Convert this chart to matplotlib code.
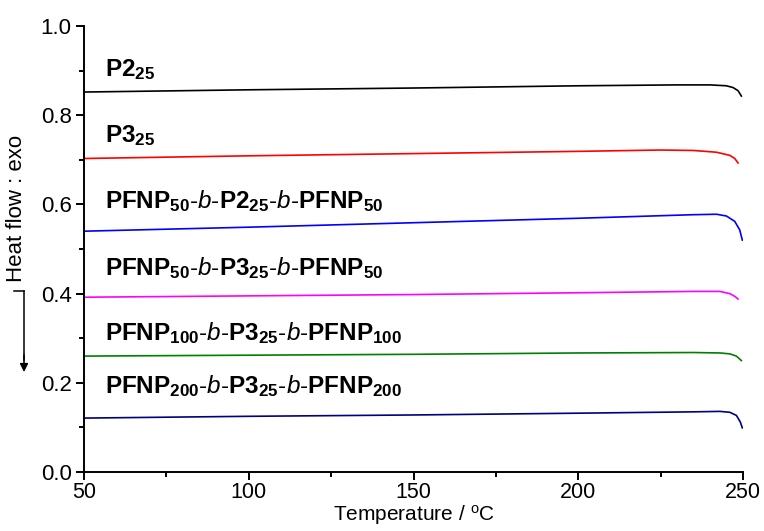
import numpy as np
import matplotlib
matplotlib.use('Agg')
import matplotlib.pyplot as plt
from matplotlib.lines import Line2D

plt.rcParams['font.family'] = ['Liberation Sans', 'DejaVu Sans']
plt.rcParams['mathtext.fontset'] = 'custom'
plt.rcParams['mathtext.rm'] = 'Liberation Sans'
plt.rcParams['mathtext.bf'] = 'Liberation Sans:bold'
plt.rcParams['mathtext.it'] = 'Liberation Sans:italic'

# DSC traces (temperature in degC, heat flow)
t_p2 = [50, 100, 150, 200, 230, 240, 245, 247, 248.5, 249.5]
hf_p2 = [0.852, 0.857, 0.861, 0.866, 0.868, 0.868, 0.866, 0.862, 0.855, 0.843]

t_p3 = [50, 100, 150, 200, 225, 235, 242, 246, 247.5, 248.5]
hf_p3 = [0.703, 0.709, 0.714, 0.719, 0.722, 0.721, 0.717, 0.710, 0.703, 0.693]

t_b50p2 = [50, 100, 150, 200, 235, 242, 245, 247.5, 249, 249.8]
hf_b50p2 = [0.540, 0.549, 0.559, 0.569, 0.577, 0.578, 0.574, 0.562, 0.543, 0.520]

t_b50p3 = [50, 100, 150, 200, 235, 243, 246, 247.5, 248.5]
hf_b50p3 = [0.392, 0.395, 0.398, 0.402, 0.405, 0.405, 0.400, 0.394, 0.388]

t_b100p3 = [50, 100, 150, 200, 235, 243, 246, 248, 249.5]
hf_b100p3 = [0.260, 0.262, 0.264, 0.267, 0.268, 0.267, 0.265, 0.260, 0.250]

t_b200p3 = [50, 100, 150, 200, 235, 243, 246, 248, 249.2, 249.8]
hf_b200p3 = [0.121, 0.125, 0.128, 0.132, 0.135, 0.136, 0.134, 0.127, 0.112, 0.099]

series = [
    (t_p2, hf_p2, 'black', r'$\mathbf{P2}_{\mathbf{25}}$', 0.888),
    (t_p3, hf_p3, '#ff0000', r'$\mathbf{P3}_{\mathbf{25}}$', 0.740),
    (t_b50p2, hf_b50p2, '#0000ff',
     r'$\mathbf{PFNP}_{\mathbf{50}}$-$\mathit{b}$-$\mathbf{P2}_{\mathbf{25}}$-$\mathit{b}$-$\mathbf{PFNP}_{\mathbf{50}}$', 0.592),
    (t_b50p3, hf_b50p3, '#ff00ff',
     r'$\mathbf{PFNP}_{\mathbf{50}}$-$\mathit{b}$-$\mathbf{P3}_{\mathbf{25}}$-$\mathit{b}$-$\mathbf{PFNP}_{\mathbf{50}}$', 0.442),
    (t_b100p3, hf_b100p3, '#008000',
     r'$\mathbf{PFNP}_{\mathbf{100}}$-$\mathit{b}$-$\mathbf{P3}_{\mathbf{25}}$-$\mathit{b}$-$\mathbf{PFNP}_{\mathbf{100}}$', 0.296),
    (t_b200p3, hf_b200p3, '#000080',
     r'$\mathbf{PFNP}_{\mathbf{200}}$-$\mathit{b}$-$\mathbf{P3}_{\mathbf{25}}$-$\mathit{b}$-$\mathbf{PFNP}_{\mathbf{200}}$', 0.177),
]

fig = plt.figure(figsize=(7.64, 5.31), dpi=100)
ax = fig.add_axes([0.110, 0.111, 0.8625, 0.840])

for t, hf, col, lab, ylab in series:
    ax.plot(t, hf, color=col, linewidth=1.2)
    ax.text(56.5, ylab, lab, fontsize=17.5, va='baseline', ha='left')

ax.set_xlim(50, 250)
ax.set_ylim(0, 1.0)
ax.set_xticks([50, 100, 150, 200, 250])
ax.set_xticks([75, 125, 175, 225], minor=True)
ax.set_yticks([0.0, 0.2, 0.4, 0.6, 0.8, 1.0])
ax.set_yticks([0.1, 0.3, 0.5, 0.7, 0.9], minor=True)
ax.set_yticklabels(['0.0', '0.2', '0.4', '0.6', '0.8', '1.0'])
ax.tick_params(which='major', direction='out', length=6, width=1.4,
               labelsize=16, pad=3)
ax.tick_params(axis='x', which='major', pad=1.5, labelsize=15.5)
ax.tick_params(which='minor', direction='out', length=3.4, width=1.4)
ax.spines['right'].set_visible(False)
ax.spines['top'].set_visible(False)
ax.spines['left'].set_linewidth(1.4)
ax.spines['bottom'].set_linewidth(1.4)

ax.set_xlabel(r'Temperature / $^{\mathrm{o}}$C', fontsize=15, labelpad=0)

# y label with downward arrow
fig.text(17 / 764, 1 - 208 / 531, 'Heat flow : exo', rotation=90, fontsize=16,
         ha='center', va='center')
fig.add_artist(Line2D([14 / 764, 24 / 764], [1 - 291 / 531, 1 - 291 / 531],
                      color='black', linewidth=1.1, transform=fig.transFigure))
fig.add_artist(Line2D([24 / 764, 24 / 764], [1 - 291 / 531, 1 - 360 / 531],
                      color='black', linewidth=1.1, transform=fig.transFigure))
ax.annotate('', xy=(24 / 764, 1 - 372 / 531), xytext=(24 / 764, 1 - 355 / 531),
            xycoords='figure fraction', textcoords='figure fraction',
            arrowprops=dict(arrowstyle='-|>', color='black', lw=1.1,
                            mutation_scale=12, shrinkA=0, shrinkB=0))

plt.savefig('out.png', dpi=100)
